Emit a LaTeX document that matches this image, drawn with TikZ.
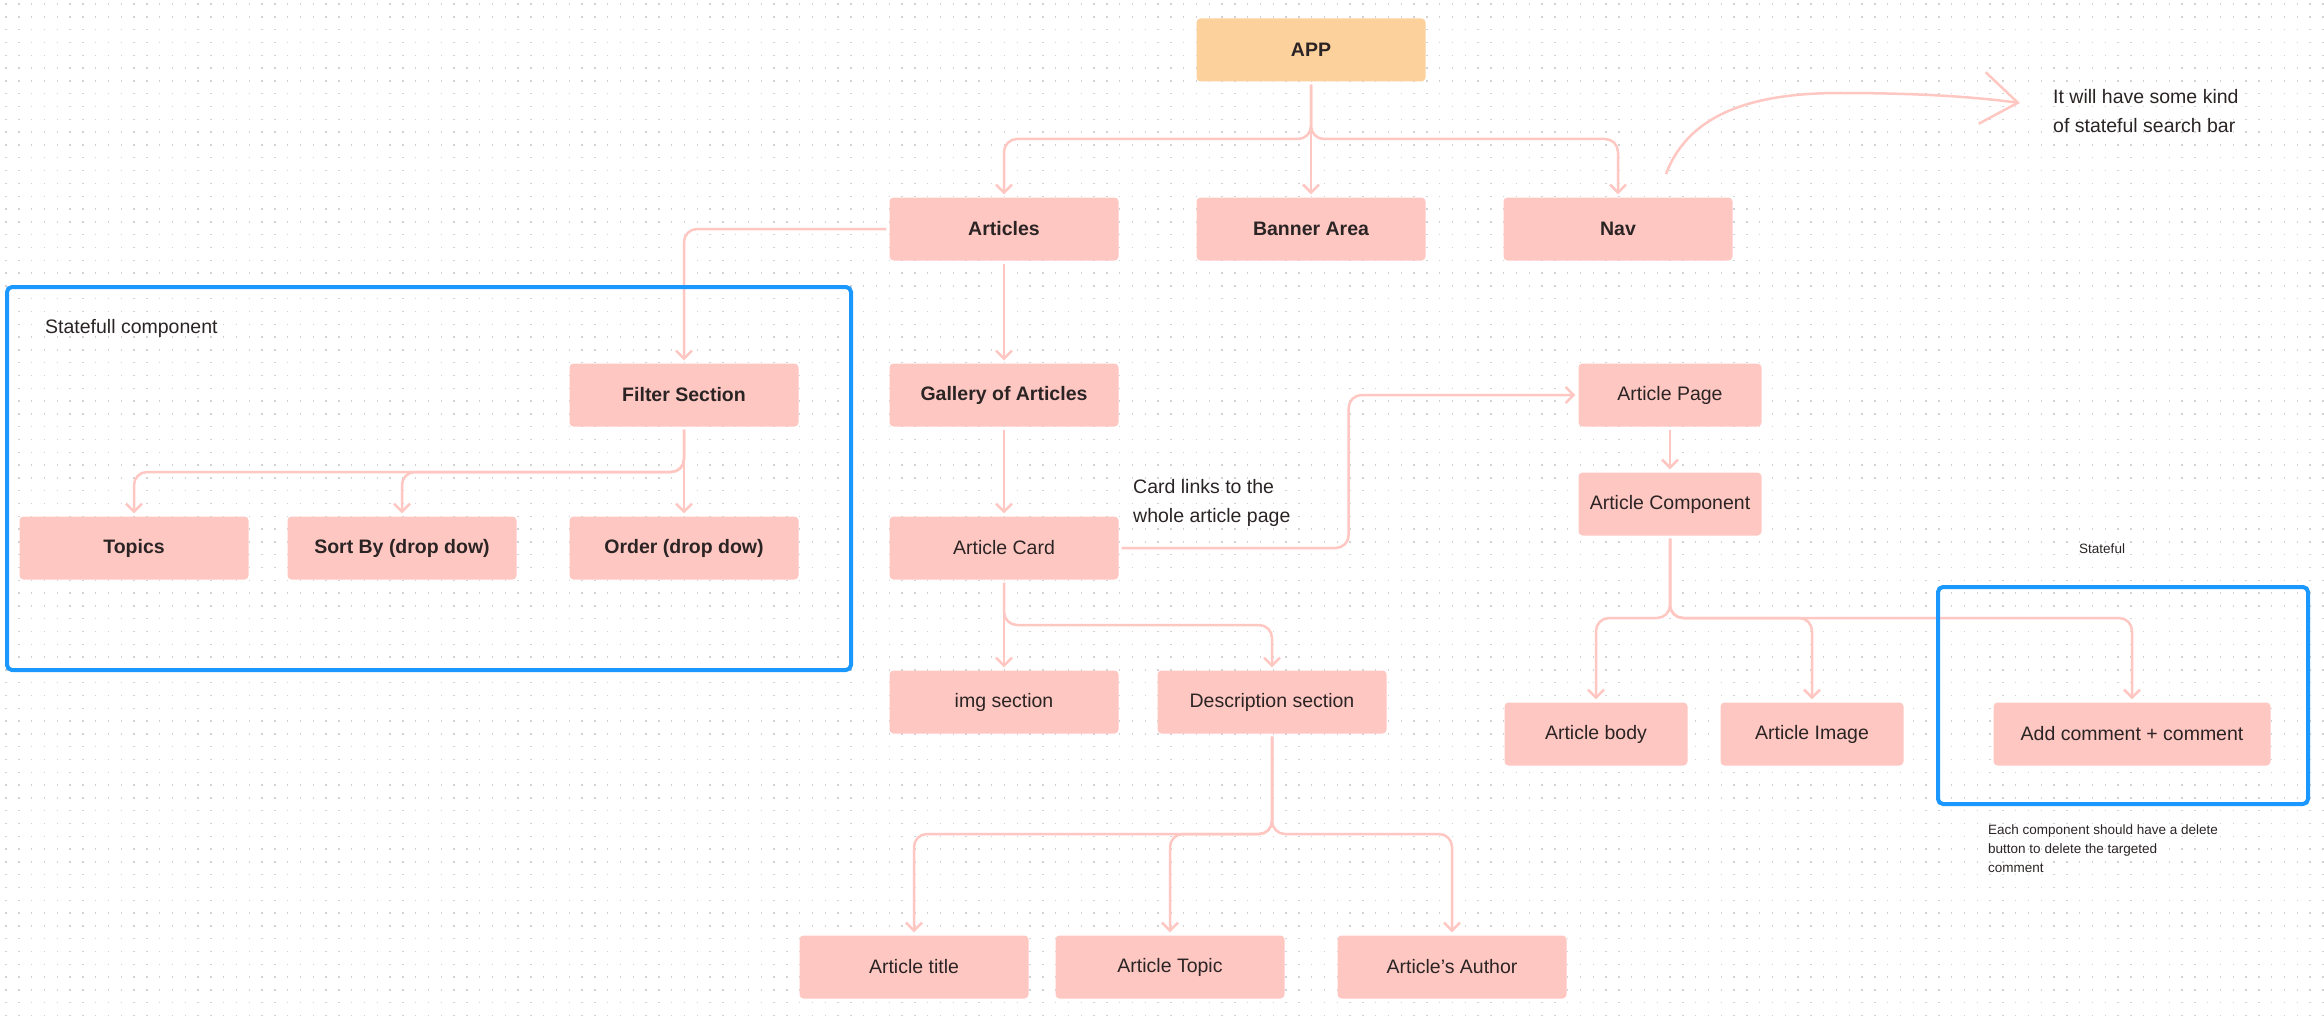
\documentclass[tikz,border=0pt]{standalone}
\usepackage{fontspec}
\setmainfont{Liberation Sans}
\usetikzlibrary{arrows.meta}
\definecolor{boxpink}{HTML}{FFC7C2}
\definecolor{apporange}{HTML}{FCD19C}
\definecolor{statblue}{HTML}{1A98FF}
\definecolor{inkdark}{HTML}{2B2424}
\definecolor{griddot}{HTML}{D2D2D2}

\begin{document}
\begin{tikzpicture}[x=1pt,y=-1pt,
  box/.style={rectangle,rounded corners=4pt,fill=boxpink,text=inkdark,minimum width=229pt,minimum height=63pt,inner sep=0pt,font=\fontsize{19.5}{24}\selectfont},
  strong/.style={box,font=\fontsize{19.5}{24}\selectfont\bfseries},
  link/.style={draw=boxpink,line width=2.5pt,rounded corners=13pt,shorten <=3pt,shorten >=3pt,-{Straight Barb[length=8pt,width=16pt]}},
  statebox/.style={draw=statblue,line width=4pt,rounded corners=5pt},
  note/.style={text=inkdark,inner sep=0pt,align=left,font=\fontsize{19.5}{29.5}\selectfont},
  smallnote/.style={text=inkdark,inner sep=0pt,align=left,font=\fontsize{13.5}{19}\selectfont}]

  % canvas with dotted grid
  \path[use as bounding box,fill=white] (0,0) rectangle (2324,1022);
  \foreach \y in {4.2,17.0,...,1021}
    \draw[griddot,line width=1.4pt,dash pattern=on 1.4pt off 11.4pt,dash phase=-5.3pt] (0,\y) -- (2324,\y);

  \node[strong,fill=apporange] (app) at (1311,50) {APP};
  \foreach \name/\x/\y/\txt in {articles/1004/229/Articles, banner/1311/229/Banner Area, nav/1618/229/Nav,
      filter/684/395/Filter Section, gallery/1004/395/Gallery of Articles,
      topics/134/548/Topics, sortby/402/548/Sort By (drop dow), order/684/548/Order (drop dow)}
    \node[strong] (\name) at (\x,\y) {\txt};
  \foreach \name/\x/\y/\txt in {card/1004/548/Article Card, img/1004/702/img section, desc/1272/702/Description section,
      title/914/967/Article title, topic/1170/967/Article Topic, author/1452/967/Article's Author}
    \node[box] (\name) at (\x,\y) {\txt};
  \foreach \name/\x/\y/\txt in {page/1670/395/Article Page, component/1670/504/Article Component,
      body/1596/734/Article body, image/1812/734/Article Image}
    \node[box,minimum width=183pt] (\name) at (\x,\y) {\txt};
  \node[box,minimum width=277pt] (comment) at (2132,734) {Add comment + comment};

  % tree links
  \draw[link] (app.south) -- (banner.north);
  \foreach \kid in {articles,nav}
    \draw[link] (app.south) |- (\kid.north |- 0,139) -- (\kid.north);
  \draw[link] (articles.west) -| (filter.north);
  \draw[link] (articles.south) -- (gallery.north);
  \draw[link] (filter.south) -- (order.north);
  \foreach \kid in {topics,sortby}
    \draw[link] (filter.south) |- (\kid.north |- 0,472) -- (\kid.north);
  \draw[link] (gallery.south) -- (card.north);
  \draw[link] (card.south) -- (img.north);
  \draw[link] (card.south) |- (desc.north |- 0,625) -- (desc.north);
  \draw[link] (card.east) -- ++(230,0) |- (page.west);
  \draw[link] (page.south) -- (component.north);
  \foreach \kid in {body,image,comment}
    \draw[link] (component.south) |- (\kid.north |- 0,618) -- (\kid.north);
  \foreach \kid in {title,topic,author}
    \draw[link] (desc.south) |- (\kid.north |- 0,834) -- (\kid.north);

  % stateful areas
  \draw[statebox] (7,287) rectangle (851,670);
  \draw[statebox] (1938,587) rectangle (2308,804);

  % notes
  \node[note,anchor=base west] (statefull) at (45,333) {Statefull component};
  \node[note,anchor=north west] (searchnote) at (2053,89) {It will have some kind\\of stateful search bar};
  \node[note,anchor=north west] (cardnote) at (1133,479) {Card links to the\\whole article page};
  \node[smallnote,anchor=base west] (statefulnote) at (2079,553) {Stateful};
  \node[smallnote,anchor=north west] (deletenote) at (1988,825) {Each component should have a delete\\button to delete the targeted\\comment};

  \coordinate (navcurve) at (1666,174);
  \coordinate (notetip) at (2020,103);
  \draw[draw=boxpink,line width=2.5pt,-{Straight Barb[length=36pt,width=52pt]}] (navcurve) .. controls (1690,110) and (1760,93) .. (1840,93) .. controls (1920,93) and (1975,97) .. (notetip);
\end{tikzpicture}
\end{document}
